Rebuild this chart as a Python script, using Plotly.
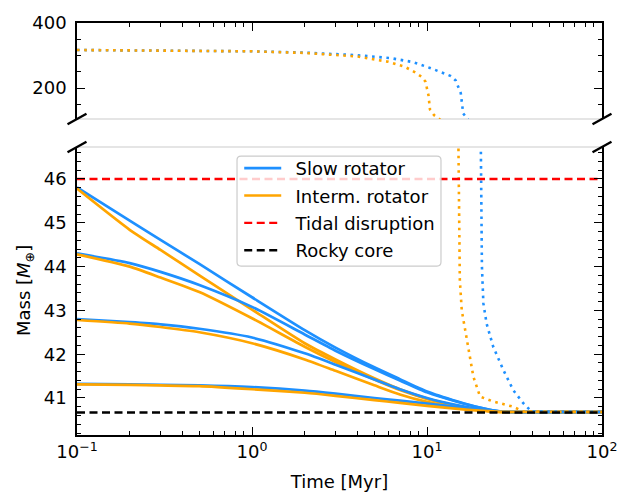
import plotly.graph_objects as go

# ---------------- data ----------------
time_myr = [0.1, 0.2, 0.3, 0.5, 1, 2, 3, 5, 7, 10, 15, 20, 25, 30, 100]

slow_1 = [45.81, 45.05, 44.61, 44.06, 43.30, 42.55, 42.15, 41.70, 41.43, 41.15, 40.92, 40.78, 40.70, 40.68, 40.68]
slow_2 = [44.30, 44.08, 43.88, 43.58, 43.08, 42.45, 42.08, 41.66, 41.40, 41.13, 40.91, 40.78, 40.70, 40.68, 40.68]
slow_3 = [42.80, 42.73, 42.68, 42.58, 42.38, 42.02, 41.76, 41.42, 41.20, 41.00, 40.83, 40.74, 40.70, 40.68, 40.68]
slow_4 = [41.32, 41.31, 41.30, 41.29, 41.25, 41.17, 41.10, 41.00, 40.94, 40.87, 40.79, 40.73, 40.70, 40.68, 40.68]

interm_1 = [45.78, 44.84, 44.38, 43.80, 43.02, 42.25, 41.88, 41.45, 41.20, 40.99, 40.82, 40.73, 40.69, 40.68, 40.68]
interm_2 = [44.28, 44.00, 43.75, 43.42, 42.82, 42.17, 41.82, 41.42, 41.18, 40.98, 40.81, 40.73, 40.69, 40.68, 40.68]
interm_3 = [42.78, 42.70, 42.62, 42.50, 42.25, 41.88, 41.62, 41.29, 41.08, 40.91, 40.78, 40.72, 40.69, 40.68, 40.68]
interm_4 = [41.31, 41.30, 41.29, 41.27, 41.20, 41.12, 41.05, 40.95, 40.89, 40.82, 40.75, 40.71, 40.69, 40.68, 40.68]

slow_dot_t = [0.1, 0.3, 1, 2, 4, 6.2, 8.3, 10.4, 12, 13.7, 14.6, 15.6, 16.1, 17.4,
              20.3, 20.6, 21.0, 21.9, 23.9, 27.3, 31.1, 35.5, 39.6, 100]
slow_dot_m = [317, 316, 313, 309, 301, 292, 280, 262, 250, 237, 223, 184, 122, 100,
              46.8, 44.0, 43.16, 42.70, 42.17, 41.64, 41.18, 40.88, 40.69, 40.68]

interm_dot_t = [0.1, 0.3, 1, 2, 4, 6.0, 7.5, 8.5, 9.3, 9.8, 10.2, 10.4, 10.96, 11.75, 12.0,
                15.1, 15.4, 15.8, 16.5, 17.2, 18.4, 20.1, 23.9, 31.1, 35.5, 100]
interm_dot_m = [317, 316, 313, 308, 297, 281, 265, 249, 235, 220, 177, 134, 117, 105, 100,
                47.0, 43.7, 43.0, 42.55, 42.17, 41.49, 41.03, 40.92, 40.80, 40.69, 40.68]

tidal_mass = 46.0
core_mass = 40.67
x_span = [0.1, 100]

legend_names = ["Slow rotator", "Interm. rotator", "Tidal disruption", "Rocky core"]
x_title = "Time [Myr]"
y_title = "Mass [<i>M</i><sub>⊕</sub>]"

x_ticks = [0.1, 1, 10, 100]
x_ticktext = ["10<sup>−1</sup>", "10<sup>0</sup>", "10<sup>1</sup>", "10<sup>2</sup>"]
x_minor = [k * d for d in (0.1, 1, 10) for k in range(2, 10)]
y_low_ticks = [41, 42, 43, 44, 45, 46]
y_high_ticks = [200, 400]

# ---------------- style ----------------
BLUE = "#1E90FF"
ORANGE = "#FFA500"
FONT = "DejaVu Sans"
FS = 18
LW = 2.7
DOT = "2.6px,4.6px"
PAD = "\u00a0\u2009"  # small gap between legend symbol and text

fig = go.Figure()

slow_all = [slow_1, slow_2, slow_3, slow_4]
interm_all = [interm_1, interm_2, interm_3, interm_4]

for i, (s, m) in enumerate(zip(slow_all, interm_all)):
    fig.add_trace(go.Scatter(x=time_myr, y=s, mode="lines", name=PAD + legend_names[0],
                             legendgroup="g1", showlegend=(i == 0),
                             line=dict(color=BLUE, width=LW, shape="spline", smoothing=0.6),
                             xaxis="x", yaxis="y"))
    fig.add_trace(go.Scatter(x=time_myr, y=m, mode="lines", name=PAD + legend_names[1],
                             legendgroup="g2", showlegend=(i == 0),
                             line=dict(color=ORANGE, width=LW, shape="spline", smoothing=0.6),
                             xaxis="x", yaxis="y"))

for ax_x, ax_y in (("x", "y"), ("x2", "y2")):
    fig.add_trace(go.Scatter(x=slow_dot_t, y=slow_dot_m, mode="lines", showlegend=False,
                             legendgroup="g1",
                             line=dict(color=BLUE, width=2.6, dash=DOT),
                             xaxis=ax_x, yaxis=ax_y))
    fig.add_trace(go.Scatter(x=interm_dot_t, y=interm_dot_m, mode="lines", showlegend=False,
                             legendgroup="g2",
                             line=dict(color=ORANGE, width=2.6, dash=DOT),
                             xaxis=ax_x, yaxis=ax_y))

fig.add_trace(go.Scatter(x=x_span, y=[tidal_mass, tidal_mass], mode="lines",
                         name=PAD + legend_names[2], legendgroup="g3",
                         line=dict(color="#FF0000", width=2.4, dash="8px,4.5px"),
                         xaxis="x", yaxis="y"))
fig.add_trace(go.Scatter(x=x_span, y=[core_mass, core_mass], mode="lines",
                         name=PAD + legend_names[3], legendgroup="g4",
                         line=dict(color="#000000", width=2.4, dash="8px,4.5px"),
                         xaxis="x", yaxis="y"))

LOW_TOP = 0.699
HIGH_BOT = 0.767

axis_common = dict(showline=True, linecolor="black", linewidth=1.5, ticks="inside",
                   ticklen=8, tickwidth=1.4, tickcolor="black", showgrid=False,
                   zeroline=False, automargin=False,
                   tickfont=dict(family=FONT, size=FS, color="black"))

# the page body adds an 8px offset, so the figure is 8px smaller than the window
fig.update_layout(
    width=624, height=484,
    margin=dict(l=69, r=30, t=15, b=57, autoexpand=False),
    paper_bgcolor="white", plot_bgcolor="white",
    font=dict(family=FONT, size=FS, color="black"),
    xaxis=dict(type="log", range=[-1, 2], domain=[0, 1], anchor="y",
               tickvals=x_ticks, ticktext=x_ticktext, mirror=False,
               minor=dict(ticks="inside", ticklen=4.5, tickwidth=1.2, tickcolor="black",
                          tickvals=x_minor),
               title=dict(text=x_title, font=dict(family=FONT, size=FS), standoff=14),
               **axis_common),
    xaxis2=dict(type="log", range=[-1, 2], domain=[0, 1], anchor="y2", side="top",
                matches="x", tickvals=x_ticks, showticklabels=False, mirror=False,
                minor=dict(ticks="inside", ticklen=4.5, tickwidth=1.2, tickcolor="black",
                           tickvals=x_minor),
                **axis_common),
    yaxis=dict(range=[40.155, 46.73], domain=[0, LOW_TOP], anchor="x",
               tickvals=y_low_ticks, mirror="ticks", ticklabelstandoff=5,
               minor=dict(ticks="inside", ticklen=4.5, tickwidth=1.2, tickcolor="black",
                          dtick=0.2, tick0=40),
               **axis_common),
    yaxis2=dict(range=[105, 400], domain=[HIGH_BOT, 1], anchor="x2",
                tickvals=y_high_ticks, mirror="ticks", ticklabelstandoff=5,
                minor=dict(ticks="inside", ticklen=4.5, tickwidth=1.2, tickcolor="black",
                           dtick=50, tick0=0),
                **axis_common),
    legend=dict(x=0.309, y=0.692, xanchor="left", yanchor="top",
                bgcolor="rgba(0,0,0,0)", borderwidth=0,
                font=dict(family=FONT, size=FS), tracegroupgap=1, itemwidth=37,
                traceorder="grouped"),
    showlegend=True,
    annotations=[dict(text=y_title, xref="paper", yref="paper",
                      x=-0.099, y=LOW_TOP / 2, xanchor="center", yanchor="middle",
                      textangle=-90, showarrow=False,
                      font=dict(family=FONT, size=FS, color="black"))],
)

shapes = []
for yv in (LOW_TOP, HIGH_BOT):
    shapes.append(dict(type="line", xref="paper", yref="paper", x0=0, x1=1, y0=yv, y1=yv,
                       line=dict(color="#cccccc", width=1.2), layer="below"))
    for xa in (0, 1):
        shapes.append(dict(type="line", xref="paper", yref="paper",
                           xsizemode="pixel", ysizemode="pixel",
                           xanchor=xa, yanchor=yv,
                           x0=-9.5, x1=9.5, y0=-5.3, y1=5.3,
                           line=dict(color="black", width=2.4)))

# legend frame (rounded, semi-transparent) drawn beneath the legend entries
bx0, bx1, by0, by1 = 0.3048, 0.6933, 0.410, 0.677
rx, ry = 0.0076, 0.0097
frame = (f"M{bx0+rx},{by0} L{bx1-rx},{by0} Q{bx1},{by0} {bx1},{by0+ry} "
         f"L{bx1},{by1-ry} Q{bx1},{by1} {bx1-rx},{by1} "
         f"L{bx0+rx},{by1} Q{bx0},{by1} {bx0},{by1-ry} "
         f"L{bx0},{by0+ry} Q{bx0},{by0} {bx0+rx},{by0} Z")
shapes.append(dict(type="path", xref="paper", yref="paper", path=frame,
                   fillcolor="rgba(255,255,255,0.8)",
                   line=dict(color="#cccccc", width=1.2), layer="above"))
fig.update_layout(shapes=shapes)

fig.write_html("out.html")
